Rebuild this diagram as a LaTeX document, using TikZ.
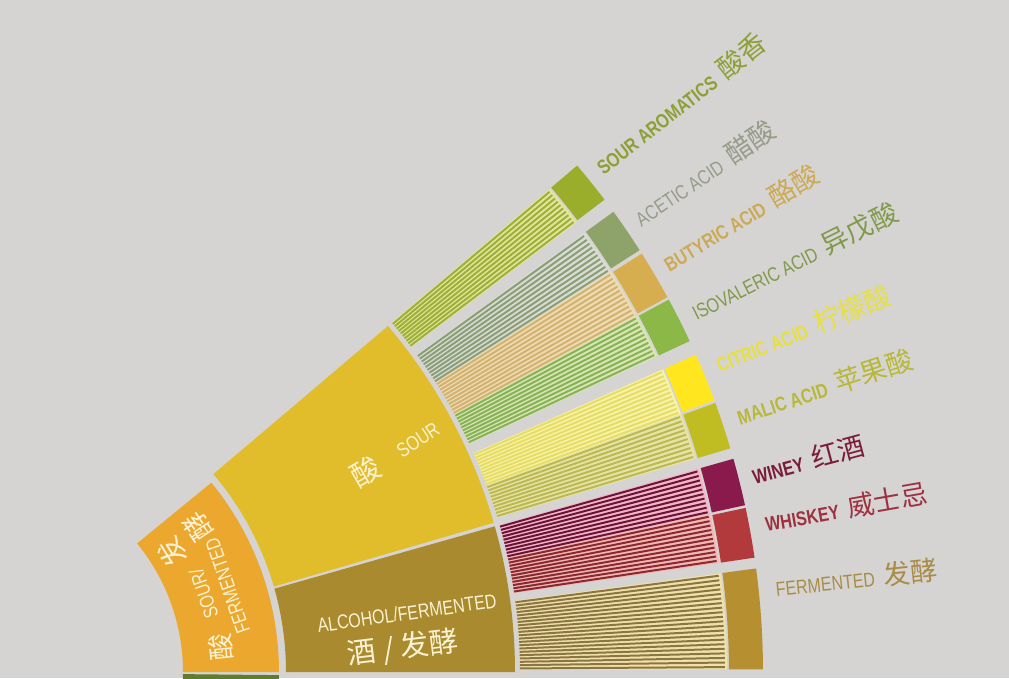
\documentclass[tikz,border=0pt]{standalone}
\usepackage{fontspec}
\setmainfont{Liberation Sans}
\newfontfamily\condf[FakeStretch=0.8]{Liberation Sans}
\newfontfamily\cjk{Noto Sans CJK SC}
\usetikzlibrary{calc}
\definecolor{bgc}{HTML}{D6D4D2}
\definecolor{ringone}{HTML}{ECA72E}
\definecolor{greenseg}{HTML}{5E7E2E}
\definecolor{sourc}{HTML}{E1BD2C}
\definecolor{alcc}{HTML}{A98A2F}
\definecolor{ringtext}{HTML}{FAF2D2}
% squares
\definecolor{sqSA}{HTML}{9AAE2B}
\definecolor{sqAC}{HTML}{8EA36A}
\definecolor{sqBU}{HTML}{D6AE50}
\definecolor{sqIS}{HTML}{8CB848}
\definecolor{sqCI}{HTML}{FFE61E}
\definecolor{sqMA}{HTML}{BFBD22}
\definecolor{sqWI}{HTML}{8A1A4C}
\definecolor{sqWH}{HTML}{B23A3C}
\definecolor{sqFE}{HTML}{B68F30}
% stripes light / dark
\definecolor{lSA}{HTML}{E4E59A}\definecolor{dSA}{HTML}{9CB03A}
\definecolor{lAC}{HTML}{DADCD3}\definecolor{dAC}{HTML}{8A9E78}
\definecolor{lBU}{HTML}{EEDCB0}\definecolor{dBU}{HTML}{D2B272}
\definecolor{lIS}{HTML}{D8E6B2}\definecolor{dIS}{HTML}{88B258}
\definecolor{lCI}{HTML}{F7F3A8}\definecolor{dCI}{HTML}{E6DC66}
\definecolor{lMA}{HTML}{E6E4A5}\definecolor{dMA}{HTML}{BCB954}
\definecolor{lWI}{HTML}{F3B5C5}\definecolor{dWI}{HTML}{6A1538}
\definecolor{lWH}{HTML}{F2B8B5}\definecolor{dWH}{HTML}{8A2A30}
\definecolor{lFE}{HTML}{EFE2A8}\definecolor{dFE}{HTML}{8C7545}
% label colours
\definecolor{tSA}{HTML}{8DA035}
\definecolor{tAC}{HTML}{959C88}
\definecolor{tBU}{HTML}{CCAA55}
\definecolor{tIS}{HTML}{7F9A4A}
\definecolor{tCI}{HTML}{E6E040}
\definecolor{tMA}{HTML}{B8B838}
\definecolor{tWI}{HTML}{7A1C3C}
\definecolor{tWH}{HTML}{9E3040}
\definecolor{tFE}{HTML}{A88C48}

\newcommand\sect[5]{\fill[#1] ([shift={(#2:#4pt)}]C) arc[start angle=#2,end angle=#3,radius=#4pt] -- ([shift={(#3:#5pt)}]C) arc[start angle=#3,end angle=#2,radius=#5pt] -- cycle;}
\newcommand\stripes[5]{%
  \fill[#3] ([shift={(#1:540pt)}]C) arc[start angle=#1,end angle=#2,radius=540pt] -- ([shift={(#2:747pt)}]C) arc[start angle=#2,end angle=#1,radius=747pt] -- cycle;
  \foreach \k in {1,...,#5}{%
    \pgfmathsetmacro\myAng{#1+(\k-0.5)*(#2-#1)/#5}
    \draw[#4,line width=2pt] ([shift={(\myAng:540pt)}]C) -- ([shift={(\myAng:745pt)}]C);
  }}
\newcommand\zh[1]{\hspace{9pt}{\mdseries\cjk\fontsize{27}{30}\selectfont #1}}

\begin{document}
\begin{tikzpicture}[x=1pt,y=1pt,
  lab/.style={anchor=base west,inner sep=0pt,font=\condf\fontsize{20}{22}\selectfont},
  cj/.style={font=\cjk\fontsize{#1}{#1}\selectfont},
  rtxt/.style={text=ringtext,inner sep=0pt}]
\useasboundingbox (0,0) rectangle (1009,678);
\clip (0,0) rectangle (1009,678);
\fill[bgc] (0,0) rectangle (1009,678);
\coordinate (C) at (-20,6);

% ring 1
\sect{ringone}{0}{39.3}{203}{299}
\sect{greenseg}{-12}{-0.6}{203}{299}
% ring 2
\sect{sourc}{16.2}{40.3}{306}{535}
\sect{alcc}{0}{15.8}{306}{535}

% ring 3 stripes
\stripes{37.0}{40.3}{lSA}{dSA}{10}
\stripes{32.4}{36.0}{lAC}{dAC}{10}
\stripes{28.5}{32.4}{lBU}{dBU}{11}
\stripes{25.0}{28.5}{lIS}{dIS}{10}
\stripes{20.2}{23.9}{lCI}{dCI}{11}
\stripes{16.6}{20.2}{lMA}{dMA}{10}
\stripes{12.2}{15.8}{lWI}{dWI}{10}
\stripes{8.4}{12.2}{lWH}{dWH}{11}
\stripes{0.2}{7.6}{lFE}{dFE}{21}

% ring 4 squares
\sect{sqSA}{37.1}{40.3}{749}{783}
\sect{sqAC}{32.6}{36.0}{749}{783}
\sect{sqBU}{28.6}{32.3}{749}{783}
\sect{sqIS}{25.0}{28.4}{749}{783}
\sect{sqCI}{20.3}{23.9}{749}{783}
\sect{sqMA}{16.6}{20.1}{749}{783}
\sect{sqWI}{12.3}{15.8}{749}{783}
\sect{sqWH}{8.4}{12.1}{749}{783}
\sect{sqFE}{0.2}{7.6}{749}{783}

% ring 1 texts
\node[rtxt,cj=27,rotate=96] (r1a) at (221,31) {酸};
\node[rtxt,align=center,rotate=109,font=\condf\fontsize{20}{25}\selectfont] (r1b) at (215.5,88) {SOUR/\\FERMENTED};
\node[rtxt,cj=28,rotate=122] (r1c) at (172,126) {发};
\node[rtxt,cj=28,rotate=124] (r1d) at (198,151) {酵};

% ring 2 texts
\node[rtxt,cj=29,rotate=30] (r2a) at (366,206) {酸};
\node[rtxt,rotate=33,font=\condf\fontsize{20}{22}\selectfont] (r2b) at (418,238) {SOUR};
\node[rtxt,rotate=8,font=\condf\fontsize{20}{22}\selectfont] (r2c) at (407,65) {ALCOHOL/FERMENTED};
\node[rtxt,rotate=7,cj=29] (r2d) at (403,30) {酒 / 发酵};

% outer labels
\node[lab,text=tSA,rotate=38] (lSAn) at ([shift={(38.5:797pt)}]C) {\bfseries SOUR AROMATICS\zh{酸香}};
\node[lab,text=tAC,rotate=34] (lACn) at ([shift={(33.9:797pt)}]C) {ACETIC ACID\zh{醋酸}};
\node[lab,text=tBU,rotate=31] (lBUn) at ([shift={(30.1:797pt)}]C) {\bfseries BUTYRIC ACID\zh{酪酸}};
\node[lab,text=tIS,rotate=26.6] (lISn) at ([shift={(26.1:798pt)}]C) {ISOVALERIC ACID\zh{异戊酸}};
\node[lab,text=tCI,rotate=22] (lCIn) at ([shift={(22.0:798pt)}]C) {\bfseries CITRIC ACID\zh{柠檬酸}};
\node[lab,text=tMA,rotate=18] (lMAn) at ([shift={(18.0:799pt)}]C) {\bfseries MALIC ACID\zh{苹果酸}};
\node[lab,text=tWI,rotate=15] (lWIn) at ([shift={(13.6:797pt)}]C) {\bfseries WINEY\zh{红酒}};
\node[lab,text=tWH,rotate=10] (lWHn) at ([shift={(10.1:799pt)}]C) {\bfseries WHISKEY\zh{威士忌}};
\node[lab,text=tFE,rotate=6] (lFEn) at ([shift={(5.4:800pt)}]C) {FERMENTED\zh{发酵}};
\end{tikzpicture}
\end{document}
